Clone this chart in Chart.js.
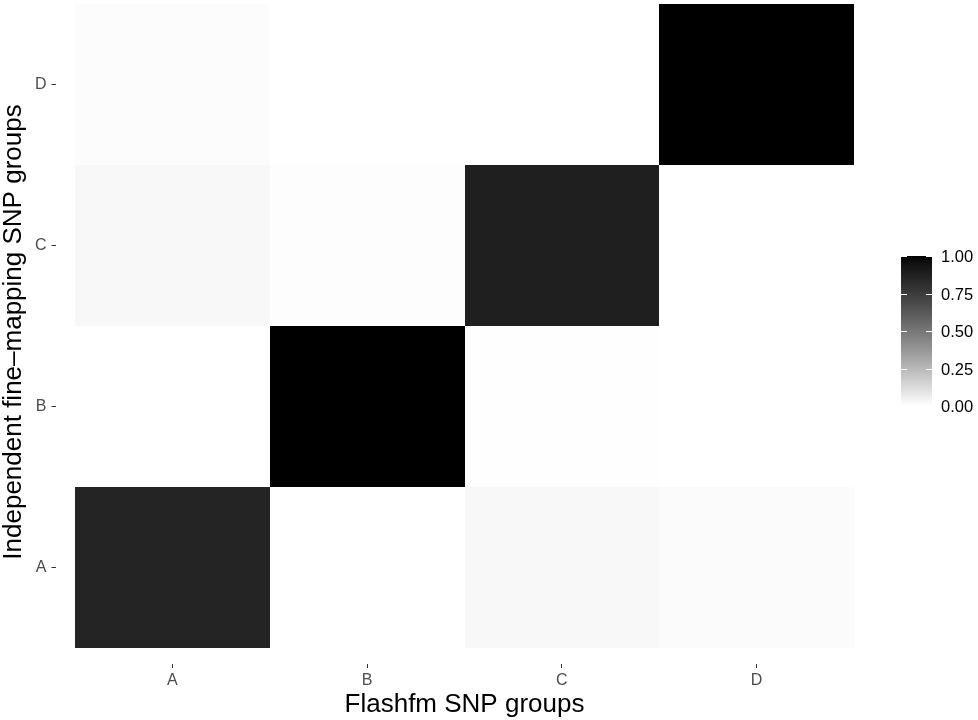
<!DOCTYPE html>
<html>
<head>
<meta charset="utf-8">
<script src="https://cdn.jsdelivr.net/npm/chart.js@4.4.1/dist/chart.umd.min.js"></script>
<style>
  html, body { margin: 0; padding: 0; background: #fff; }
  #wrap { width: 978px; height: 720px; }
</style>
</head>
<body>
<div id="wrap"><canvas id="chart1" width="978" height="720"></canvas></div>
<script>
// groups on each axis
const xGroups = ['A', 'B', 'C', 'D'];   // Flashfm SNP groups
const yGroups = ['A', 'B', 'C', 'D'];   // Independent fine-mapping SNP groups

// one row per independent group, values for flashfm A..D
const rowA = [0.86, 0, 0.024, 0.014];
const rowB = [0, 1, 0.004, 0];
const rowC = [0.024, 0.007, 0.88, 0];
const rowD = [0.01, 0, 0, 1];

const legendTicks = [0, 0.25, 0.5, 0.75, 1];

const rows = [rowA, rowB, rowC, rowD];
const cells = [];
rows.forEach((row, j) => {
    row.forEach((v, i) => cells.push({ x: i + 1, y: j + 1, v: v }));
});

const FONT = "'Liberation Sans', Arial, sans-serif";

// white -> black, interpolated in Lab like ggplot does
function grey(v) {
    const L = 100 * (1 - v);
    const Y = L > 8 ? Math.pow((L + 16) / 116, 3) : L / 903.3;
    let s = Y <= 0.0031308 ? 12.92 * Y : 1.055 * Math.pow(Y, 1 / 2.4) - 0.055;
    const c = Math.round(Math.max(0, Math.min(1, s)) * 255);
    return 'rgb(' + c + ',' + c + ',' + c + ')';
}

// draw tiles using the chart scales
const tiles = {
    id: 'tiles',
    beforeDatasetsDraw(chart) {
        const xs = chart.scales.x, ys = chart.scales.y, c = chart.ctx;
        c.save();
        chart.data.datasets[0].data.forEach(d => {
            const x1 = Math.round(xs.getPixelForValue(d.x - 0.5));
            const x2 = Math.round(xs.getPixelForValue(d.x + 0.5));
            const y1 = Math.round(ys.getPixelForValue(d.y + 0.5));
            const y2 = Math.round(ys.getPixelForValue(d.y - 0.5));
            c.fillStyle = grey(d.v);
            c.fillRect(x1, y1, x2 - x1, y2 - y1);
        });
        c.restore();
    }
};

// colour bar legend
const colorbar = {
    id: 'colorbar',
    afterDraw(chart) {
        const c = chart.ctx;
        const x0 = 901, w = 31, top = 256, h = 150;
        c.save();
        for (let i = 0; i < h; i++) {
            c.fillStyle = grey(1 - (i + 0.5) / h);
            c.fillRect(x0, top + i, w, 1);
        }
        c.strokeStyle = '#ffffff';
        c.lineWidth = 1;
        c.font = '16.5px ' + FONT;
        c.fillStyle = '#000';
        c.textBaseline = 'middle';
        c.textAlign = 'left';
        legendTicks.forEach(t => {
            const y = Math.round(top + (1 - t) * h) + 0.5;
            c.beginPath();
            c.moveTo(x0, y); c.lineTo(x0 + 6, y);
            c.moveTo(x0 + w - 6, y); c.lineTo(x0 + w, y);
            c.stroke();
            c.fillText(t.toFixed(2), 941, y + 1);
        });
        c.restore();
    }
};

const axisTicks = (labels) => ({
    callback: (v) => labels[Math.round(v) - 1],
    color: '#4d4d4d',
    font: { family: FONT, size: 16 },
    padding: 3,
    maxRotation: 0,
    autoSkip: false
});

const axisGrid = {
    drawOnChartArea: false,
    drawTicks: true,
    tickLength: 4,
    tickColor: '#333333',
    tickWidth: 1
};

const ctx1 = document.getElementById('chart1').getContext('2d');
const chart1 = new Chart(ctx1, {
    type: 'scatter',
    data: {
        datasets: [{
            data: cells,
            pointRadius: 0,
            pointHoverRadius: 0
        }]
    },
    options: {
        responsive: false,
        animation: false,
        events: [],
        layout: { padding: { top: 0, right: 104.5, left: 0, bottom: 0 } },
        plugins: {
            legend: { display: false },
            tooltip: { enabled: false }
        },
        scales: {
            x: {
                type: 'linear',
                min: 0.4,
                max: 4.6,
                afterBuildTicks: (s) => { s.ticks = xGroups.map((g, i) => ({ value: i + 1 })); },
                afterFit: (s) => { s.height = 56; s.paddingLeft = 0; s.paddingRight = 0; },
                grid: axisGrid,
                border: { display: false },
                ticks: axisTicks(xGroups),
                title: {
                    display: true,
                    text: 'Flashfm SNP groups',
                    color: '#000',
                    font: { family: FONT, size: 26 },
                    padding: 0
                }
            },
            y: {
                type: 'linear',
                min: 0.4,
                max: 4.527,
                afterBuildTicks: (s) => { s.ticks = yGroups.map((g, i) => ({ value: i + 1 })); },
                afterFit: (s) => { s.width = 55.5; s.paddingTop = 0; s.paddingBottom = 0; },
                grid: axisGrid,
                border: { display: false },
                ticks: Object.assign(axisTicks(yGroups), { padding: 5 }),
                title: {
                    display: true,
                    text: 'Independent fine\u2013mapping SNP groups',
                    color: '#000',
                    font: { family: FONT, size: 26, lineHeight: 1.1 },
                    padding: 0
                }
            }
        }
    },
    plugins: [tiles, colorbar]
});
</script>
</body>
</html>
